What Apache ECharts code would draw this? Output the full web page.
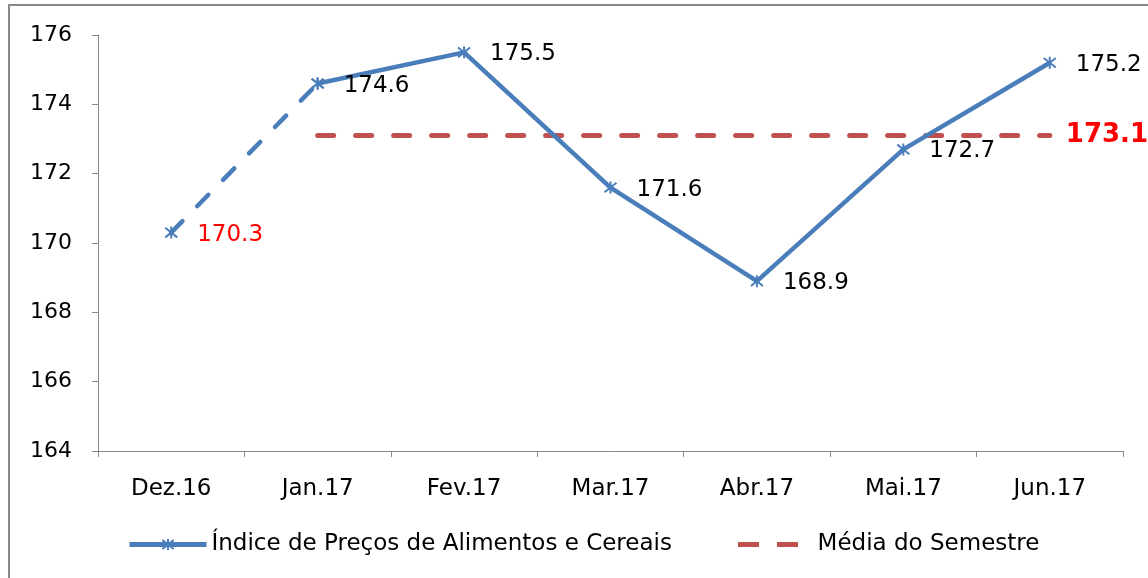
<!DOCTYPE html>
<html>
<head>
<meta charset="utf-8">
<script src="https://cdn.jsdelivr.net/npm/echarts@6/dist/echarts.min.js"></script>
<style>
    html, body { margin: 0; padding: 0; background: #fff; }
    #chart { width: 1148px; height: 578px; }
</style>
</head>
<body>
<div id="chart"></div>
<script>
var categories = ['Dez.16', 'Jan.17', 'Fev.17', 'Mar.17', 'Abr.17', 'Mai.17', 'Jun.17'];
var indexValues = [170.3, 174.6, 175.5, 171.6, 168.9, 172.7, 175.2];
var semesterMean = 173.1;
var yTicks = [164, 166, 168, 170, 172, 174, 176];

var seriesName = 'Índice de Preços de Alimentos e Cereais';
var meanName = 'Média do Semestre';
var blue = '#4A7EBB';
var red = '#C0504D';
var font = 'DejaVu Sans';
// asterisk marker (X plus vertical bar)
var star = 'path://M1,1L9,9M9,1L1,9M5,0L5,10';

var chart = echarts.init(document.getElementById('chart'));

// solid part: Jan.17 .. Jun.17
var solidData = indexValues.map(function(v, i) {
    return i === 0 ? '-' : v;
});
// dashed part: Dez.16 -> Jan.17
var dashData = indexValues.map(function(v, i) {
    if (i > 1) return '-';
    if (i === 0) {
        return { value: v, label: { show: true, color: '#ff0000' } };
    }
    return v;
});
// mean line from Jan.17 onwards
var meanData = categories.map(function(c, i) {
    return i === 0 ? '-' : semesterMean;
});

var labelStyle = {
    show: true, position: 'right', distance: 19, offset: [0, 2],
    color: '#000', fontFamily: font, fontSize: 23
};

var option = {
    animation: false,
    backgroundColor: '#fff',
    graphic: [{
        type: 'rect',
        shape: { x: 9, y: 5, width: 1160, height: 600 },
        style: { fill: 'none', stroke: '#888', lineWidth: 2 },
        silent: true
    }],
    grid: { left: 98, right: 25, top: 35, bottom: 127 },
    legend: [{
        left: 122,
        top: 528,
        itemWidth: 77,
        itemHeight: 14,
        lineStyle: { width: 5 },
        textStyle: { fontFamily: font, fontSize: 23, color: '#000' },
        data: [seriesName]
    }, {
        left: 733,
        top: 528,
        itemWidth: 60,
        itemHeight: 5,
        icon: 'path://M0,0H21V5H0Z M39,0H60V5H39Z',
        formatter: '  {name}',
        textStyle: { fontFamily: font, fontSize: 23, color: '#000' },
        data: [meanName]
    }],
    xAxis: {
        type: 'category',
        data: categories,
        boundaryGap: true,
        axisLine: { lineStyle: { color: '#888', width: 1 } },
        axisTick: { show: true, length: 6, lineStyle: { color: '#888' } },
        axisLabel: { color: '#000', fontFamily: font, fontSize: 23, margin: 27 },
        splitLine: { show: false }
    },
    yAxis: {
        type: 'value',
        min: yTicks[0],
        max: yTicks[yTicks.length - 1],
        interval: 2,
        axisLine: { show: true, lineStyle: { color: '#888', width: 1 } },
        axisTick: { show: true, length: 6, inside: false, lineStyle: { color: '#888' } },
        axisLabel: { color: '#000', fontFamily: font, fontSize: 22, margin: 26 },
        splitLine: { show: false }
    },
    series: [{
        name: meanName,
        type: 'line',
        data: meanData,
        symbol: 'none',
        z: 1,
        lineStyle: { color: red, width: 5, type: [16, 22], cap: 'round' },
        itemStyle: { color: red },
        endLabel: {
            show: true, distance: 16,
            formatter: function(p) { return p.value; },
            color: '#ff0000', fontWeight: 'bold', fontSize: 26, fontFamily: font
        }
    }, {
        name: seriesName,
        type: 'line',
        data: solidData,
        symbol: star,
        symbolSize: 12,
        z: 3,
        lineStyle: { color: blue, width: 4.5 },
        itemStyle: { color: blue, borderColor: blue, borderWidth: 2 },
        label: labelStyle
    }, {
        name: 'dash',
        type: 'line',
        data: dashData,
        symbol: star,
        symbolSize: 12,
        z: 2,
        lineStyle: { color: blue, width: 4.5, type: [16, 21], cap: 'round' },
        itemStyle: { color: blue, borderColor: blue, borderWidth: 2 },
        label: {
            show: false, position: 'right', distance: 19, offset: [0, 2],
            color: '#000', fontFamily: font, fontSize: 23
        }
    }]
};

chart.setOption(option);
</script>
</body>
</html>
